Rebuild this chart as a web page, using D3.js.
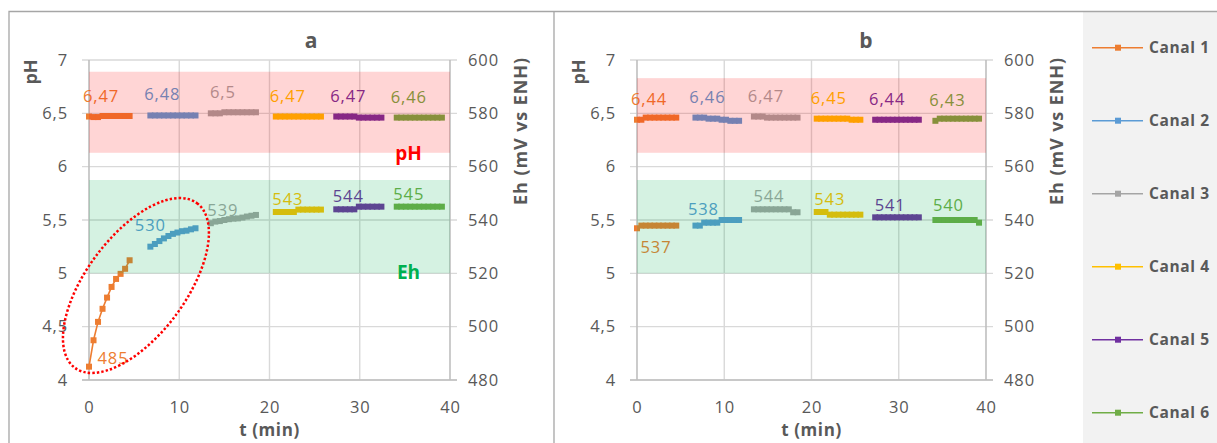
<!DOCTYPE html>
<html>
<head>
<meta charset="utf-8">
<script src="https://cdn.jsdelivr.net/npm/d3@7"></script>
<style>
  body { margin: 0; background: #ffffff; }
  svg { display: block; }
  text { font-family: "Open Sans", "Liberation Sans", sans-serif; }
</style>
</head>
<body>
<svg id="chart" width="1217" height="443"></svg>
<script>
// ---- data -------------------------------------------------------------
const channels = ["Canal 1", "Canal 2", "Canal 3", "Canal 4", "Canal 5", "Canal 6"];

const timeTicks = [0, 10, 20, 30, 40];
const phTicks = [4, 4.5, 5, 5.5, 6, 6.5, 7];
const ehTicks = [480, 500, 520, 540, 560, 580, 600];

// panel a : sampling times (min), pH and Eh (mV vs ENH) per channel
const timeA = [
  [0, 0.5, 1, 1.5, 2, 2.5, 3, 3.5, 4, 4.5],
  [6.8, 7.3, 7.8, 8.3, 8.8, 9.3, 9.8, 10.3, 10.8, 11.3, 11.8],
  [13.5, 14, 14.5, 15, 15.5, 16, 16.5, 17, 17.5, 18, 18.5],
  [20.7, 21.2, 21.7, 22.2, 22.7, 23.2, 23.7, 24.2, 24.7, 25.2, 25.7],
  [27.4, 27.9, 28.4, 28.9, 29.4, 29.9, 30.4, 30.9, 31.4, 31.9, 32.4],
  [34.1, 34.6, 35.1, 35.6, 36.1, 36.6, 37.1, 37.6, 38.1, 38.6, 39.1]
];
const phA = [
  [6.47, 6.465, 6.465, 6.475, 6.475, 6.475, 6.475, 6.475, 6.475, 6.475],
  [6.48, 6.48, 6.48, 6.48, 6.48, 6.48, 6.48, 6.48, 6.48, 6.48, 6.48],
  [6.50, 6.50, 6.50, 6.51, 6.51, 6.51, 6.51, 6.51, 6.51, 6.51, 6.51],
  [6.47, 6.47, 6.47, 6.47, 6.47, 6.47, 6.47, 6.47, 6.47, 6.47, 6.47],
  [6.47, 6.47, 6.47, 6.47, 6.47, 6.46, 6.46, 6.46, 6.46, 6.46, 6.46],
  [6.46, 6.46, 6.46, 6.46, 6.46, 6.46, 6.46, 6.46, 6.46, 6.46, 6.46]
];
const ehA = [
  [485, 494.9, 501.8, 506.7, 510.9, 514.9, 517.9, 519.8, 521.7, 524.9],
  [530, 531, 532.1, 533.1, 534, 534.8, 535.3, 535.8, 536, 536.5, 536.9],
  [538.8, 539.4, 539.6, 540, 540.3, 540.5, 540.6, 540.9, 541.3, 541.6, 541.9],
  [543, 543, 543, 543, 543, 543.9, 543.9, 543.9, 543.9, 543.9, 543.9],
  [544, 544, 544, 544, 544, 545, 545, 545, 545, 545, 545],
  [545, 545, 545, 545, 545, 545, 545, 545, 545, 545, 545]
];

// panel b
const timeB = [
  [0, 0.5, 1, 1.5, 2, 2.5, 3, 3.5, 4, 4.5],
  [6.7, 7.2, 7.7, 8.2, 8.7, 9.2, 9.7, 10.2, 10.7, 11.2, 11.7],
  [13.4, 13.9, 14.4, 14.9, 15.4, 15.9, 16.4, 16.9, 17.4, 17.9, 18.4],
  [20.6, 21.1, 21.6, 22.1, 22.6, 23.1, 23.6, 24.1, 24.6, 25.1, 25.6],
  [27.3, 27.8, 28.3, 28.8, 29.3, 29.8, 30.3, 30.8, 31.3, 31.8, 32.3],
  [34.2, 34.7, 35.2, 35.7, 36.2, 36.7, 37.2, 37.7, 38.2, 38.7, 39.2]
];
const phB = [
  [6.44, 6.44, 6.46, 6.46, 6.46, 6.46, 6.46, 6.46, 6.46, 6.46],
  [6.46, 6.46, 6.46, 6.45, 6.45, 6.45, 6.44, 6.44, 6.43, 6.43, 6.43],
  [6.47, 6.47, 6.47, 6.46, 6.46, 6.46, 6.46, 6.46, 6.46, 6.46, 6.46],
  [6.45, 6.45, 6.45, 6.45, 6.45, 6.45, 6.45, 6.45, 6.44, 6.44, 6.44],
  [6.44, 6.44, 6.44, 6.44, 6.44, 6.44, 6.44, 6.44, 6.44, 6.44, 6.44],
  [6.43, 6.45, 6.45, 6.45, 6.45, 6.45, 6.45, 6.45, 6.45, 6.45, 6.45]
];
const ehB = [
  [536.9, 537.9, 537.9, 537.9, 537.9, 537.9, 537.9, 537.9, 537.9, 537.9],
  [537.9, 537.9, 539, 539, 539, 539, 540, 540, 540, 540, 540],
  [544, 544, 544, 544, 544, 544, 544, 544, 544, 542.9, 542.9],
  [543, 543, 543, 542, 542, 542, 542, 542, 542, 542, 542],
  [541, 541, 541, 541, 541, 541, 541, 541, 541, 541, 541],
  [540, 540, 540, 540, 540, 540, 540, 540, 540, 540, 539]
];

// reference windows (pH and Eh) shaded in each panel
const phBandA = [6.13, 6.89];
const phBandB = [6.13, 6.83];
const ehBand = [520, 555];

// ---- styling ----------------------------------------------------------
const colors = ["#ED7D31", "#5B9BD5", "#A5A5A5", "#FFC000", "#7030A0", "#70AD47"];
const textGray = "#595959";
const gridGray = "#d9d9d9";
const axisGray = "#bfbfbf";

const svg = d3.select("#chart");
const plotTop = 60, plotBottom = 380;

const fmtPh = v => String(+v.toFixed(2)).replace(".", ",");
const fmtEh = v => String(Math.round(v));

// outer frame and legend panel
svg.append("rect").attr("x", 1083).attr("y", 11.5).attr("width", 134).attr("height", 432)
  .attr("fill", "#f2f2f2");
svg.append("path").attr("d", "M9,443 V11.5 H1217 M554,11.5 V443")
  .attr("fill", "none").attr("stroke", "#a6a6a6").attr("stroke-width", 1.3);

function drawPanel(p) {
  const x = d3.scaleLinear().domain([0, 40]).range([p.x0, p.x1]);
  const yPh = d3.scaleLinear().domain([4, 7]).range([plotBottom, plotTop]);
  const yEh = d3.scaleLinear().domain([480, 600]).range([plotBottom, plotTop]);
  const g = svg.append("g");

  // grid
  g.append("g").selectAll("line").data(phTicks).join("line")
    .attr("x1", p.x0 - 7).attr("x2", p.x1 + 7)
    .attr("y1", d => yPh(d)).attr("y2", d => yPh(d))
    .attr("stroke", gridGray).attr("stroke-width", 1.4);
  g.append("g").selectAll("line").data(timeTicks.slice(1, -1)).join("line")
    .attr("x1", d => x(d)).attr("x2", d => x(d))
    .attr("y1", plotTop).attr("y2", plotBottom)
    .attr("stroke", gridGray).attr("stroke-width", 1.4);
  // axis lines
  [p.x0, p.x1].forEach(xx => g.append("line")
    .attr("x1", xx).attr("x2", xx).attr("y1", plotTop).attr("y2", plotBottom)
    .attr("stroke", axisGray).attr("stroke-width", 1.6));
  g.append("line").attr("x1", p.x0 - 7).attr("x2", p.x1 + 7)
    .attr("y1", plotBottom).attr("y2", plotBottom)
    .attr("stroke", axisGray).attr("stroke-width", 1.6);

  // tick labels through d3 axes
  const styleAxis = sel => {
    sel.select(".domain").remove();
    sel.selectAll("line").remove();
    sel.selectAll("text").attr("fill", textGray)
      .style("font-size", "16.5px").style("letter-spacing", "0.9px");
  };
  g.append("g").attr("transform", `translate(${p.x0},0)`)
    .call(d3.axisLeft(yPh).tickValues(phTicks).tickFormat(fmtPh).tickSize(0).tickPadding(21))
    .call(styleAxis);
  g.append("g").attr("transform", `translate(${p.x1},0)`)
    .call(d3.axisRight(yEh).tickValues(ehTicks).tickFormat(d3.format("d")).tickSize(0).tickPadding(18))
    .call(styleAxis);
  g.append("g").attr("transform", `translate(0,${plotBottom})`)
    .call(d3.axisBottom(x).tickValues(timeTicks).tickFormat(d3.format("d")).tickSize(0).tickPadding(21))
    .call(styleAxis);

  // series: pH on the left axis, Eh on the right axis
  const drawSeries = (times, vals, y, i) => {
    const pts = times.map((t, k) => [x(t), y(vals[k])]);
    g.append("path").attr("d", d3.line()(pts))
      .attr("fill", "none").attr("stroke", colors[i]).attr("stroke-width", 1.6);
    g.append("g").selectAll("rect").data(pts).join("rect")
      .attr("x", d => d[0] - 3).attr("y", d => d[1] - 3)
      .attr("width", 6).attr("height", 6).attr("fill", colors[i]);
  };
  p.time.forEach((times, i) => {
    drawSeries(times, p.ph[i], yPh, i);
    drawSeries(times, p.eh[i], yEh, i);
  });

  // value labels at the first sample of each run
  p.time.forEach((times, i) => {
    g.append("text")
      .attr("x", x(times[0]) + 12).attr("y", yPh(p.ph[i][0]) - 15)
      .attr("text-anchor", "middle").attr("fill", colors[i])
      .style("font-size", "16.5px").style("letter-spacing", "0.9px")
      .text(fmtPh(p.ph[i][0]));
    const nudge = p.ehNudge[i] || [12, -7];
    g.append("text")
      .attr("x", x(times[0]) + nudge[0]).attr("y", yEh(p.eh[i][0]) + nudge[1])
      .attr("text-anchor", "middle").attr("fill", colors[i])
      .style("font-size", "16.5px").style("letter-spacing", "0.9px")
      .text(fmtEh(p.eh[i][0]));
  });

  // translucent reference windows over the plot
  g.append("rect").attr("x", p.x0).attr("width", p.x1 - p.x0)
    .attr("y", yPh(p.phBand[1])).attr("height", yPh(p.phBand[0]) - yPh(p.phBand[1]))
    .attr("fill", "#ff0000").attr("fill-opacity", 0.165);
  g.append("rect").attr("x", p.x0).attr("width", p.x1 - p.x0)
    .attr("y", yEh(ehBand[1])).attr("height", yEh(ehBand[0]) - yEh(ehBand[1]))
    .attr("fill", "#00b050").attr("fill-opacity", 0.165);

  // titles
  g.append("text").attr("x", p.titleX).attr("y", 48).attr("text-anchor", "middle")
    .attr("fill", textGray).style("font-size", "21px").style("font-weight", 700).text(p.title);
  g.append("text").attr("x", (p.x0 + p.x1) / 2).attr("y", 436).attr("text-anchor", "middle")
    .attr("fill", textGray).style("font-size", "17px").style("font-weight", 700)
    .style("letter-spacing", "0.6px").text("t (min)");
  g.append("text").attr("transform", `translate(${p.x0 - 52},${72}) rotate(-90)`)
    .attr("text-anchor", "middle").attr("fill", textGray)
    .style("font-size", "18px").style("font-weight", 700).text("pH");
  g.append("text").attr("transform", `translate(${p.x1 + 77},${131}) rotate(-90)`)
    .attr("text-anchor", "middle").attr("fill", textGray)
    .style("font-size", "18px").style("font-weight", 700)
    .style("letter-spacing", "0.9px").text("Eh (mV vs ENH)");

  if (p.bandLabels) {
    g.append("text").attr("x", x(35.4)).attr("y", yPh(p.phBand[0]) + 7)
      .attr("text-anchor", "middle").attr("fill", "#ff0000")
      .style("font-size", "19px").style("font-weight", 700).text("pH");
    g.append("text").attr("x", x(35.4)).attr("y", yEh(ehBand[0]) + 6)
      .attr("text-anchor", "middle").attr("fill", "#00b050")
      .style("font-size", "19px").style("font-weight", 700).text("Eh");
  }
  if (p.ellipse) {
    const [t, ph] = p.ellipse;
    g.append("ellipse")
      .attr("transform", `translate(${x(t)},${yPh(ph)}) rotate(-53.4)`)
      .attr("rx", 102.5).attr("ry", 49.7)
      .attr("fill", "none").attr("stroke", "#ff0000").attr("stroke-width", 2.5)
      .attr("stroke-dasharray", "2.4 2.1");
  }
}

drawPanel({
  x0: 89, x1: 450, title: "a", titleX: 311,
  time: timeA, ph: phA, eh: ehA, phBand: phBandA,
  ehNudge: [[24, -3], [0, -16]],
  bandLabels: true, ellipse: [5.2, 4.886]
});
drawPanel({
  x0: 637, x1: 986, title: "b", titleX: 866,
  time: timeB, ph: phB, eh: ehB, phBand: phBandB,
  ehNudge: [[19, 25], [8, -11], [15, -7], [13, -7], [15, -6], [13, -9]],
  bandLabels: false, ellipse: null
});

// legend
const legend = svg.append("g").selectAll("g").data(channels).join("g")
  .attr("transform", (d, i) => `translate(1092,${47.7 + i * 73})`);
legend.append("line").attr("x1", 0).attr("x2", 51)
  .attr("stroke", (d, i) => colors[i]).attr("stroke-width", 1.6);
legend.append("rect").attr("x", 23).attr("y", -3).attr("width", 6).attr("height", 6)
  .attr("fill", (d, i) => colors[i]);
legend.append("text").attr("x", 57).attr("y", 5.5)
  .attr("fill", textGray).style("font-size", "15.5px").style("font-weight", 700)
  .style("letter-spacing", "0.6px").text(d => d);
</script>
</body>
</html>
